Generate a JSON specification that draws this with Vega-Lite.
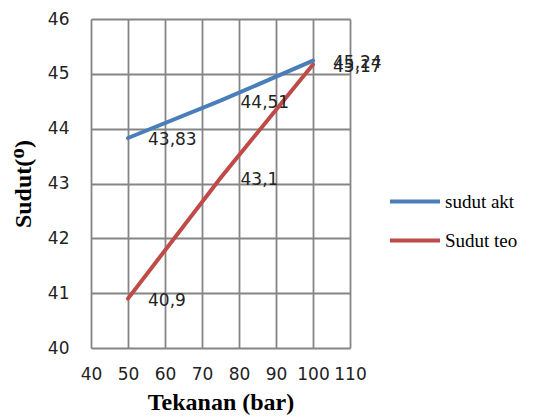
{
  "$schema": "https://vega.github.io/schema/vega-lite/v6.json",
  "autosize": "none",
  "width": 259,
  "height": 329,
  "padding": {"left": 91, "top": 19, "right": 184, "bottom": 69},
  "background": "white",
  "config": {
    "view": {"stroke": null},
    "locale": {"number": {"decimal": ",", "thousands": ".", "grouping": [3], "currency": ["", ""]}},
    "axis": {
      "domain": false,
      "ticks": false,
      "gridColor": "#858585",
      "gridWidth": 1.8,
      "gridOpacity": 1,
      "labelFont": "DejaVu Sans",
      "labelFontSize": 17,
      "labelColor": "#222222",
      "titleFont": "Liberation Serif",
      "titleFontSize": 24,
      "titleFontWeight": "bold",
      "titleColor": "#000000"
    }
  },
  "data": {
    "values": [
      {"tekanan": 50, "sudut": 43.83, "seri": "sudut akt"},
      {"tekanan": 75, "sudut": 44.51, "seri": "sudut akt"},
      {"tekanan": 100, "sudut": 45.24, "seri": "sudut akt"},
      {"tekanan": 50, "sudut": 40.9, "seri": "Sudut teo"},
      {"tekanan": 75, "sudut": 43.1, "seri": "Sudut teo"},
      {"tekanan": 100, "sudut": 45.17, "seri": "Sudut teo"}
    ]
  },
  "encoding": {
    "x": {
      "field": "tekanan", "type": "quantitative",
      "scale": {"domain": [40, 110], "nice": false, "zero": false},
      "axis": {"values": [40, 50, 60, 70, 80, 90, 100, 110], "title": "Tekanan (bar)", "labelPadding": 18, "titlePadding": 8, "labelFlush": false, "labelOverlap": false}
    },
    "y": {
      "field": "sudut", "type": "quantitative",
      "scale": {"domain": [40, 46], "nice": false, "zero": false},
      "axis": {"values": [40, 41, 42, 43, 44, 45, 46], "title": "Sudut(ᴼ)", "labelPadding": 22, "titlePadding": 12, "labelFlush": false}
    }
  },
  "layer": [
    {
      "mark": {"type": "line", "strokeWidth": 4, "strokeCap": "round"},
      "encoding": {
        "color": {
          "field": "seri", "type": "nominal",
          "scale": {"domain": ["sudut akt", "Sudut teo"], "range": ["#4a7ebb", "#be4b48"]},
          "legend": {
            "title": null,
            "orient": "none",
            "legendX": 297,
            "legendY": 173,
            "symbolType": "stroke",
            "symbolSize": 2500,
            "symbolStrokeWidth": 4,
            "labelFont": "Liberation Serif",
            "labelFontSize": 19,
            "labelColor": "#000000",
            "labelOffset": 3,
            "clipHeight": 19,
            "rowPadding": 19
          }
        }
      }
    },
    {
      "mark": {"type": "text", "align": "left", "baseline": "middle", "dx": 20, "dy": 2, "font": "DejaVu Sans", "fontSize": 17, "color": "#222222"},
      "encoding": {
        "text": {"field": "sudut", "type": "quantitative", "format": "~g"}
      }
    }
  ]
}
